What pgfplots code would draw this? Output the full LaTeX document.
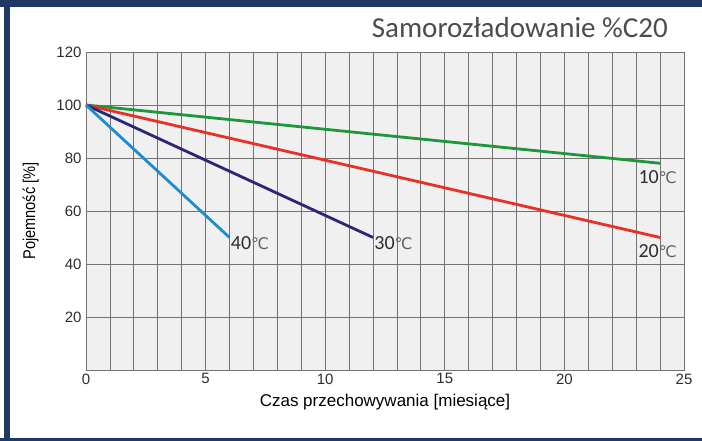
\documentclass[border=0pt]{standalone}
\usepackage{fontspec}
\setmainfont{Liberation Sans}
\newfontfamily\carlito{Carlito}
\newfontfamily\dejavu{DejaVu Sans}
\usepackage{pgfplots}
\pgfplotsset{compat=1.18}
\definecolor{navyframe}{RGB}{31,56,100}
\definecolor{plotbg}{RGB}{240,240,240}
\definecolor{gridc}{RGB}{115,115,115}
\definecolor{c10}{RGB}{30,150,60}
\definecolor{c20}{RGB}{232,48,40}
\definecolor{c30}{RGB}{44,38,120}
\definecolor{c40}{RGB}{30,140,205}
\definecolor{txt}{RGB}{45,45,45}
\newcommand{\tlab}[1]{{\carlito\fontsize{20pt}{20pt}\selectfont\color{txt}#1}{\dejavu\fontsize{16pt}{16pt}\selectfont\color{txt!75}℃}}
\begin{document}
\begin{tikzpicture}
\useasboundingbox (0pt,0pt) rectangle (702pt,441pt);
\fill[white] (0pt,0pt) rectangle (702pt,441pt);
\fill[navyframe] (0pt,434pt) rectangle (702pt,441pt);
\fill[navyframe] (4pt,0pt) rectangle (10pt,441pt);
\fill[navyframe] (0pt,0pt) rectangle (702pt,3pt);
\node[anchor=east, inner sep=0pt, text=txt!85] at (668pt,413pt) {\carlito\fontsize{29pt}{29pt}\selectfont Samorozładowanie \%C20};
\begin{axis}[
  at={(86pt,71pt)}, anchor=south west,
  scale only axis, width=598pt, height=318pt,
  xmin=0, xmax=25, ymin=0, ymax=120,
  xtick={0,5,...,25}, minor xtick={0,1,...,25},
  ytick={20,40,...,120},
  grid=both,
  major grid style={gridc, line width=0.8pt},
  minor grid style={gridc, line width=0.8pt},
  axis line style={gridc, line width=0.8pt},
  axis background/.style={fill=plotbg},
  tick style={draw=none},
  major tick length=0pt, minor tick length=0pt,
  ticklabel style={font=\fontsize{15pt}{15pt}\selectfont, text=txt},
  /pgf/number format/assume math mode=true,
  xticklabel style={yshift=0pt},
  yticklabel style={xshift=-1pt},
  xlabel={Czas przechowywania [miesiące]},
  ylabel={\scalebox{0.86}[1]{Pojemność [\%]}},
  xlabel style={font=\fontsize{17pt}{17pt}\selectfont, text=black, yshift=-3pt},
  ylabel style={font=\fontsize{17pt}{17pt}\selectfont, text=black, yshift=11pt},
  clip=false,
]
\addplot[c10, line width=2.8pt] coordinates {(0,100) (24,78)};
\addplot[c20, line width=2.8pt] coordinates {(0,100) (24,50)};
\addplot[c30, line width=2.8pt] coordinates {(0,100) (12,50)};
\addplot[c40, line width=2.8pt] coordinates {(0,100) (6,50)};
\node[anchor=north, inner sep=0pt] at (axis cs:23.9,75.5) {\tlab{10}};
\node[anchor=north, inner sep=0pt] at (axis cs:23.9,47.5) {\tlab{20}};
\node[anchor=north west, inner sep=0pt] at (axis cs:12.05,50.5) {\tlab{30}};
\node[anchor=north west, inner sep=0pt] at (axis cs:6.05,50.5) {\tlab{40}};
\end{axis}
\end{tikzpicture}
\end{document}
